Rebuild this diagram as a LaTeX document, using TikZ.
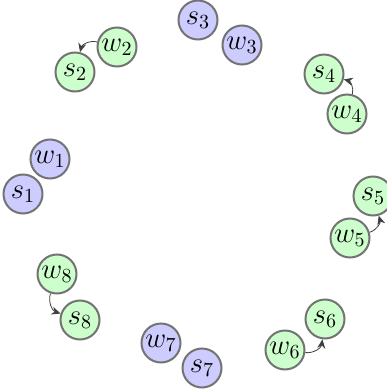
\documentclass[tikz,border=0pt]{standalone}
\usepackage{amsmath}
\usetikzlibrary{arrows.meta}

\definecolor{walkgreen}{RGB}{204,255,204}
\definecolor{stayblue}{RGB}{204,204,255}

\begin{document}
\begin{tikzpicture}[
            x=0.5pt,
            y=-0.5pt,
            state/.style={draw=black!55, line width=1pt, circle, inner sep=0pt, minimum size=19.5pt, font=\Large},
            moved/.style={state, fill=walkgreen},
            kept/.style={state, fill=stayblue},
            hop/.style={-{Stealth[length=4.5pt,width=4pt]}, black!75, thin, bend right=45},
          ]
          \useasboundingbox (0,0) rectangle (386,391);
          \node[kept] (s1) at (23,194) {$s_1$};
          \node[kept] (w1) at (50,159) {$w_1$};
          \node[moved] (s2) at (75,72) {$s_2$};
          \node[moved] (w2) at (117,47) {$w_2$};
          \node[kept] (s3) at (198,20) {$s_3$};
          \node[kept] (w3) at (242,45) {$w_3$};
          \node[moved] (s4) at (324,74) {$s_4$};
          \node[moved] (w4) at (347,114) {$w_4$};
          \node[moved] (s5) at (373,196) {$s_5$};
          \node[moved] (w5) at (350,238) {$w_5$};
          \node[moved] (s6) at (325,319) {$s_6$};
          \node[moved] (w6) at (285,350) {$w_6$};
          \node[kept] (s7) at (202,368) {$s_7$};
          \node[kept] (w7) at (161,343) {$w_7$};
          \node[moved] (s8) at (80,320) {$s_8$};
          \node[moved] (w8) at (57,274) {$w_8$};
          \foreach \i in {2,4,5,6,8} {
            \draw[hop] (w\i) to (s\i);
          }
        \end{tikzpicture}
\end{document}
